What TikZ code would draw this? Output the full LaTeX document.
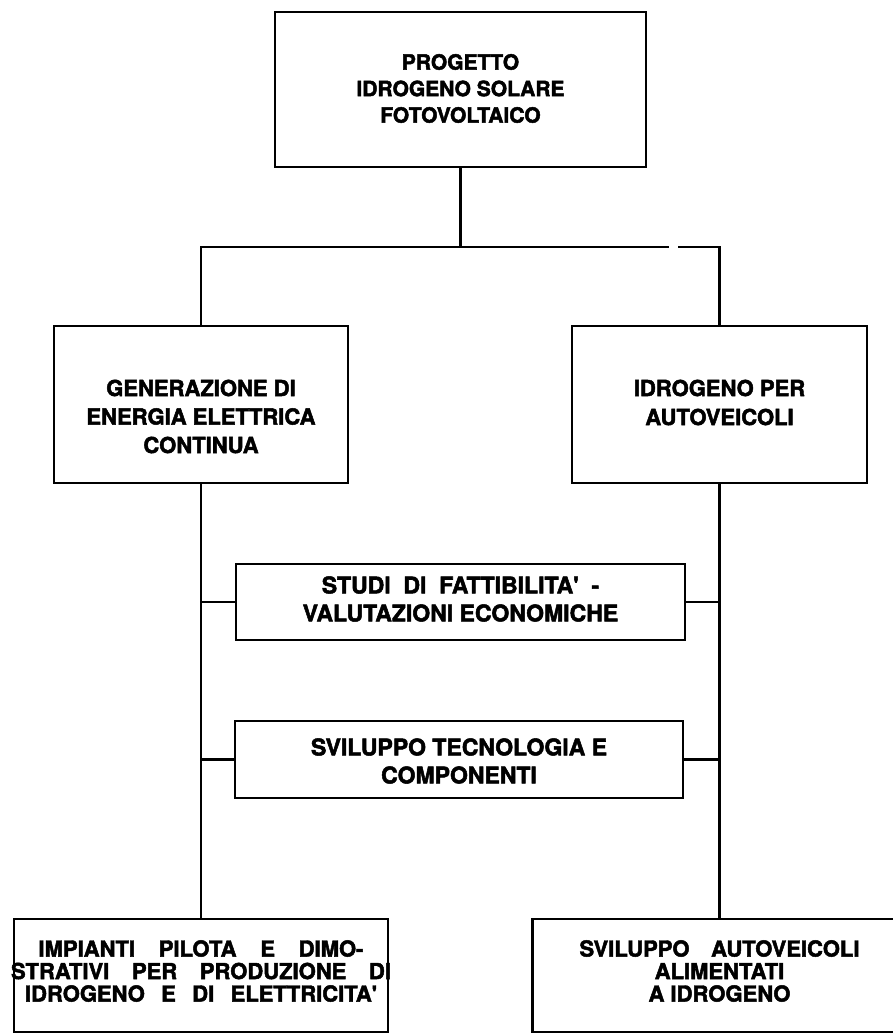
\documentclass[tikz,border=0pt]{standalone}
\usepackage{fontspec}
\setmainfont{TeX Gyre Heros}[BoldFeatures={FakeBold=2.2}]
\newcommand{\fsz}[2]{\fontsize{#1}{#2}\selectfont\bfseries}
\newcommand{\apo}{\textquotesingle}
\begin{document}
\begin{tikzpicture}[x=1pt,y=-1pt,
  box/.style={draw, line width=2.6pt, inner sep=0pt},
  txt/.style={align=center, inner sep=0pt},
  conn/.style={line width=2.6pt}]
\useasboundingbox (0,0) rectangle (892,1035);
% boxes
\node[box, minimum width=371pt, minimum height=155pt] (top) at (460.5,89.5) {};
\node[box, minimum width=294pt, minimum height=157pt] (gen) at (201,404.5) {};
\node[box, minimum width=295pt, minimum height=157pt] (idr) at (719.5,404.5) {};
\node[box, minimum width=449pt, minimum height=76pt] (stud) at (460.5,602) {};
\node[box, minimum width=448pt, minimum height=77pt] (tec) at (459,759.5) {};
\node[box, minimum width=374pt, minimum height=113pt] (pil) at (201,975.5) {};
\node[box, minimum width=374pt, minimum height=113pt] (aut) at (719.5,975.5) {};
% texts
\node[txt, font=\fsz{21}{26.5}] (topt) at (460.5,88.5) {PROGETTO\\IDROGENO SOLARE\\FOTOVOLTAICO};
\node[txt, font=\fsz{22}{28.5}] (gent) at (201,416.5) {GENERAZIONE DI\\ENERGIA ELETTRICA\\CONTINUA};
\node[txt, font=\fsz{22}{29}] (idrt) at (719.5,402.5) {IDROGENO PER\\AUTOVEICOLI};
\node[txt, font=\fsz{23}{28}] (studt) at (460.5,599) {STUDI \ DI \ FATTIBILITA\apo{} \ -\\VALUTAZIONI ECONOMICHE};
\node[txt, font=\fsz{23}{28}] (tect) at (459,761) {SVILUPPO TECNOLOGIA E\\COMPONENTI};
\node[txt, font=\fsz{22}{22.5}] (pilt) at (201,971) {\makebox[325pt][s]{IMPIANTI PILOTA E DIMO-}\\\makebox[380pt][s]{STRATIVI PER PRODUZIONE DI}\\\makebox[352pt][s]{IDROGENO E DI ELETTRICITA\apo}};
\node[txt, font=\fsz{22}{22.5}] (autt) at (719.5,971) {\makebox[280pt][s]{SVILUPPO AUTOVEICOLI}\\ALIMENTATI\\A IDROGENO};
% connectors
\coordinate (jn) at (460.5,247);
\coordinate (gapL) at (669,247);
\coordinate (gapR) at (678,247);
\draw[conn] (top.south) -- (jn);
\draw[conn] (jn) -| (gen.north);
\draw[conn] (jn) -- (gapL);
\draw[conn] (gapR) -| (idr.north);
\draw[conn] (gen.south) -- (pil.north);
\draw[conn] (idr.south) -- (aut.north);
\draw[conn] (stud.west) -- (stud.west -| gen.south);
\draw[conn] (stud.east) -- (stud.east -| idr.south);
\draw[conn] (tec.west) -- (tec.west -| gen.south);
\draw[conn] (tec.east) -- (tec.east -| idr.south);
\end{tikzpicture}
\end{document}
